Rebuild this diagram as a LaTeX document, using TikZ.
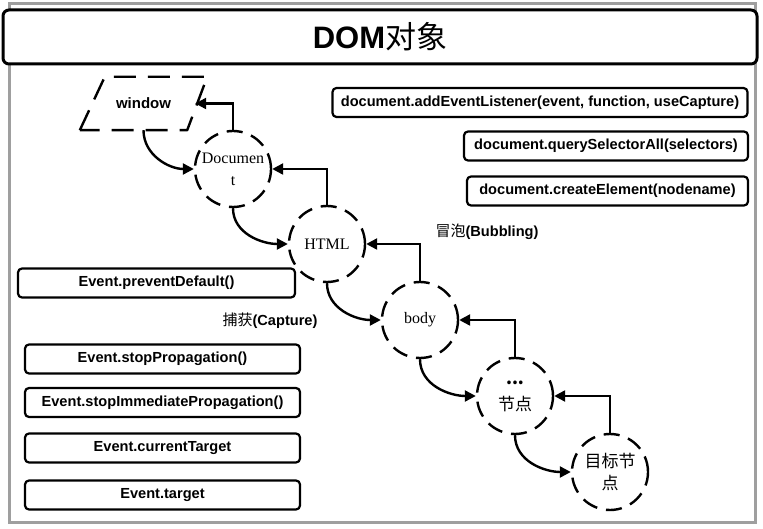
\documentclass[tikz,border=0pt]{standalone}
\usepackage{fontspec}
\setmainfont{Liberation Sans}
\newfontfamily\cjk{Noto Sans CJK SC}
\newfontfamily\serifnode{Liberation Serif}
\usetikzlibrary{arrows.meta}

\tikzset{
    codebox/.style={draw, line width=2.2pt, rounded corners=4pt, minimum height=29pt,
        inner sep=0pt, font=\bfseries\fontsize{14.6}{16}\selectfont},
    dashcircle/.style={draw, circle, line width=2.4pt, dash pattern=on 16pt off 9pt,
        minimum size=76pt, inner sep=0pt, align=center},
    flowarrow/.style={line width=2.4pt, -{Triangle[length=11pt,width=11pt]}},
}

\begin{document}
\begin{tikzpicture}[x=1pt,y=1pt]
        \useasboundingbox (0,0) rectangle (763,528);
        % window frame and title
        \draw[gray!75, line width=3pt] (9,6) rectangle (755,524);
        \node[draw, line width=3pt, rounded corners=6pt, fill=white, minimum width=754pt,
            minimum height=54pt] (title) at (380,491)
            {\fontsize{31}{34}\selectfont\textbf{DOM}{\cjk 对象}};

        % propagation chain
        \node[minimum width=103pt, minimum height=53pt,
            font=\bfseries\fontsize{15}{18}\selectfont] (window) at (143.5,424.5) {window};
        \draw[line width=2.4pt, dash pattern=on 22pt off 12pt, line join=round]
            ([xshift=-12pt]window.south west) -- ([xshift=13pt]window.north west)
            -- ([xshift=12pt]window.north east) -- ([xshift=-8pt]window.south east) -- cycle;
        \node[dashcircle, font=\serifnode\fontsize{16}{22}\selectfont] (doc) at (233,359) {Documen\\t};
        \node[dashcircle, font=\serifnode\fontsize{16}{22}\selectfont] (html) at (327,284) {HTML};
        \node[dashcircle, font=\serifnode\fontsize{16}{22}\selectfont] (body) at (420,208) {body};
        \node[dashcircle, font=\cjk\fontsize{17}{26}\selectfont] (mid) at (515,132) {\textbf{...}\\节点};
        \node[dashcircle, font=\cjk\fontsize{17}{22}\selectfont] (targetnode) at (610,56) {目标节\\点};

        % capture goes down, bubbling goes up
        \foreach \from/\to in {window/doc, doc/html, html/body, body/mid, mid/targetnode} {
            \draw[flowarrow] (\from.south) to[out=-90, in=180] (\to.west);
        }
        \foreach \from/\to in {doc/window, html/doc, body/html, mid/body, targetnode/mid} {
            \draw[flowarrow] (\from.north) |- (\to.east);
        }
        \node (bubble) at (487,296) {{\cjk\fontsize{15}{18}\selectfont 冒泡}\textbf{\fontsize{14.6}{16}\selectfont(Bubbling)}};
        \node (capture) at (270,207) {{\cjk\fontsize{15}{18}\selectfont 捕获}\textbf{\fontsize{14.6}{16}\selectfont(Capture)}};

        % document methods
        \node[codebox, minimum width=415pt] (listener) at (540,425.5)
            {document.addEventListener(event, function, useCapture)};
        \node[codebox, minimum width=284pt] (query) at (606,382) {document.querySelectorAll(selectors)};
        \node[codebox, minimum width=281pt] (create) at (607.5,337) {document.createElement(nodename)};

        % event members
        \node[codebox, minimum width=277pt] (prevent) at (156.5,245) {Event.preventDefault()};
        \foreach \y/\id/\txt in {
            169/stopprop/Event.stopPropagation(),
            125.5/stopimm/Event.stopImmediatePropagation(),
            80/curtarget/Event.currentTarget,
            33/evtarget/Event.target
        } {
            \node[codebox, minimum width=275pt] (\id) at (162.5,\y) {\txt};
        }
    \end{tikzpicture}
\end{document}
